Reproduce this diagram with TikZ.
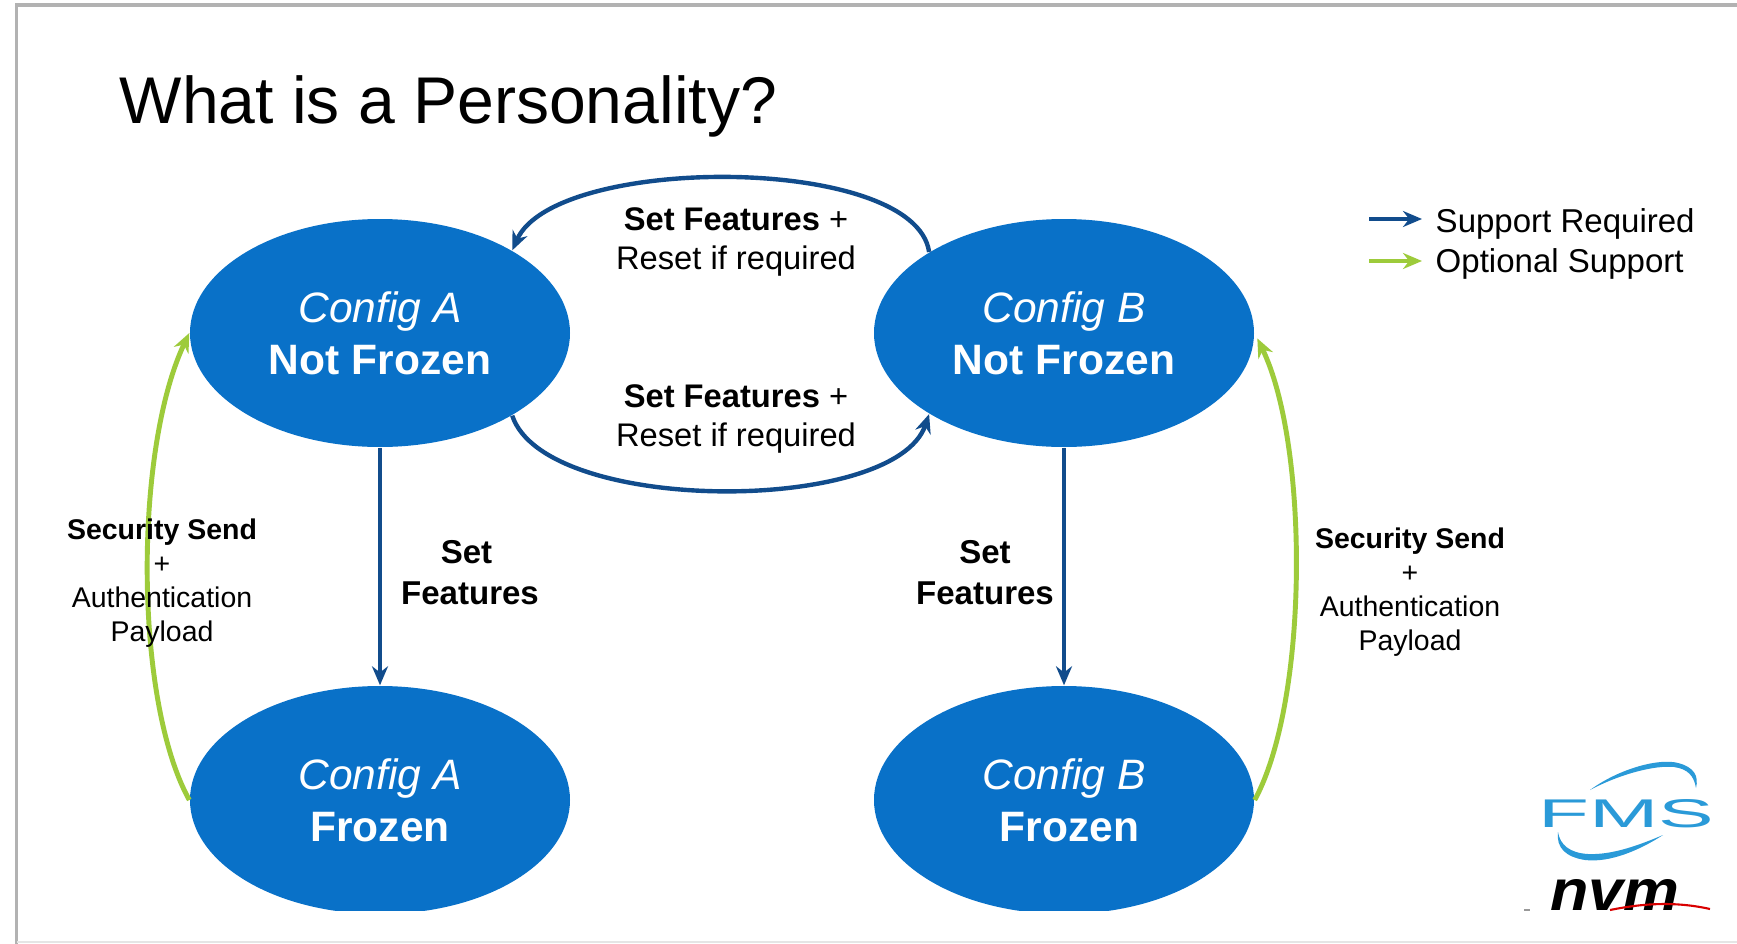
\documentclass[tikz,border=0pt]{standalone}
\usepackage{fontspec}
\setmainfont{Liberation Sans}
\usetikzlibrary{shapes,positioning,calc,arrows.meta}
\definecolor{cfgblue}{HTML}{0971C8}
\definecolor{reqblue}{HTML}{114C8C}
\definecolor{optgreen}{HTML}{9DCB3B}
\definecolor{fmsblue}{HTML}{2A9AD8}
\tikzset{
    cfgstate/.style={ellipse, fill=cfgblue, text=white, minimum width=3.8cm, minimum height=2.28cm, inner sep=0pt, align=center, font=\fontsize{12.1}{14.8}\selectfont},
    reqline/.style={draw=reqblue, line width=1.25pt, -{Stealth[length=1.9mm,width=1.6mm]}},
    optline/.style={draw=optgreen, line width=1.4pt, -{Stealth[length=1.9mm,width=1.6mm]}},
    edgetext/.style={align=center, inner sep=0pt, font=\fontsize{9.3}{11.1}\selectfont},
    settext/.style={align=center, inner sep=0pt, font=\fontsize{9.4}{11.7}\selectfont},
    sectext/.style={align=center, inner sep=0pt, font=\fontsize{8.1}{9.7}\selectfont},
    legtext/.style={anchor=west, inner sep=0pt, font=\fontsize{9.4}{11.9}\selectfont}
}
\begin{document}
\begin{tikzpicture}[y=-1cm]
    \useasboundingbox (0,0) rectangle (17.37,9.44);
    \fill[white] (0,0) rectangle (17.37,9.44);

    % Slide frame
    \draw[black!30, line width=0.9pt] (17.37,0.05) -- (0.165,0.05) -- (0.165,9.44);
    \draw[black!10, line width=0.5pt] (0.17,9.42) -- (17.37,9.42);

    % Title
    \node[anchor=base west, inner sep=0pt, font=\fontsize{18.8}{23}\selectfont] (title) at (1.19,1.235) {What is a Personality?};

    % States
    \begin{scope}
        \clip (0,0) rectangle (17.37,9.10);
        \node[cfgstate] (cfgAfree) at (3.80,3.33) {\textit{Config A}\\\textbf{Not Frozen}};
        \node[cfgstate] (cfgBfree) at (10.64,3.33) {\textit{Config B}\\\textbf{Not Frozen}};
        \node[cfgstate] (cfgAfrozen) at (3.80,8.00) {\textit{Config A}\\\textbf{Frozen}};
        \node[cfgstate] (cfgBfrozen) at (10.64,8.00) {\textit{Config B}\\\hspace*{1.1mm}\textbf{Frozen}};
    \end{scope}

    % Transitions
    \draw[reqline] (cfgBfree.149) .. controls (9.15,1.54) and (5.55,1.54) .. (cfgAfree.32);
    \draw[reqline] (cfgAfree.-32) .. controls (5.45,5.15) and (8.95,5.15) .. (cfgBfree.211);
    \draw[reqline] (cfgAfree.south) -- (cfgAfrozen.north);
    \draw[reqline] (cfgBfree.south) -- (cfgBfrozen.north);
    \draw[optline] (cfgAfrozen.west) .. controls (1.34,7.00) and (1.34,4.50) .. (cfgAfree.west);
    \draw[optline, shorten >=0.6mm] (cfgBfrozen.east) .. controls (13.09,7.00) and (13.09,4.45) .. (cfgBfree.east);

    % Labels
    \node[edgetext] (topedge) at (7.36,2.42) {\textbf{Set Features} +\\Reset if required};
    \node[edgetext] (botedge) at (7.36,4.19) {\textbf{Set Features} +\\Reset if required};
    \node[settext] (setA) at (4.70,5.73) {\mbox{\textbf{Set}\hspace{0.7mm}}\\\textbf{Features}};
    \node[settext] (setB) at (9.85,5.73) {\textbf{Set}\\\textbf{Features}};
    \node[sectext] (secA) at (1.62,5.83) {\textbf{Security Send}\\+\\Authentication\\Payload};
    \node[sectext] (secB) at (14.10,5.92) {\textbf{Security Send}\\+\\Authentication\\Payload};

    % Legend
    \coordinate (reqfrom) at (13.69,2.19);
    \coordinate (optfrom) at (13.69,2.61);
    \node[legtext] (reqtext) at (14.35,2.24) {Support Required};
    \node[legtext] (opttext) at (14.35,2.64) {Optional Support};
    \draw[reqline] (reqfrom) -- (reqfrom -| 14.22,2.19);
    \draw[optline] (optfrom) -- (optfrom -| 14.22,2.61);

    % Logo
    \node[inner sep=0pt, font=\fontsize{11.4}{11.4}\selectfont, text=fmsblue, xscale=2.08, anchor=base] (fms) at (16.265,8.27) {FMS};
    \fill[fmsblue] (15.90,7.90) .. controls (16.20,7.68) and (16.60,7.58) .. (16.78,7.63)
        .. controls (16.94,7.67) and (16.99,7.76) .. (16.96,7.88)
        .. controls (16.94,7.76) and (16.88,7.69) .. (16.74,7.67)
        .. controls (16.55,7.65) and (16.20,7.74) .. cycle;
    \fill[fmsblue] (15.58,8.32) .. controls (15.56,8.48) and (15.66,8.57) .. (15.85,8.60)
        .. controls (16.10,8.63) and (16.40,8.50) .. (16.63,8.35)
        .. controls (16.35,8.47) and (16.10,8.55) .. (15.88,8.54)
        .. controls (15.70,8.53) and (15.60,8.45) .. cycle;
    \node[inner sep=0pt, font=\fontsize{16.4}{16.4}\selectfont\bfseries\itshape, xscale=1.09, anchor=base] (nvm) at (16.15,9.10) {nvm};
    \draw[red!85!black, line width=0.6pt] (16.10,9.10) .. controls (16.35,9.05) and (16.70,9.00) .. (17.10,9.09);
    \draw[black!40, line width=0.4pt] (15.24,9.10) -- (15.30,9.10);
\end{tikzpicture}
\end{document}
